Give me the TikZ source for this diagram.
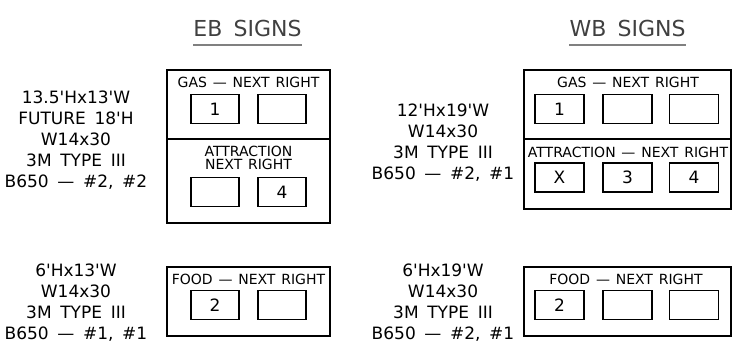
\documentclass[tikz,border=0pt]{standalone}
\usepackage{fontspec}
\setmainfont[WordSpace=1.3]{DejaVu Sans}
\newfontfamily\postfont[WordSpace=1.6]{DejaVu Sans}
\usetikzlibrary{positioning}

\begin{document}
\begin{tikzpicture}[x=1pt, y=-1pt,
	panel/.style={draw, line width=1.6pt, inner sep=0, minimum width=#1},
	slot/.style={draw, line width=1.3pt, inner sep=0, minimum width=48pt, minimum height=29pt, font=\fontsize{17}{17}\selectfont},
	sign/.style={inner sep=0, font=\fontsize{14}{12.5}\selectfont},
	postlbl/.style={inner sep=0, align=center, font=\postfont\fontsize{17}{21}\selectfont},
	heading/.style={inner sep=0, text=black!75, font=\postfont\fontsize{22}{22}\selectfont}]
\useasboundingbox (0,0) rectangle (752,360);
\node[heading, anchor=base] (ebT) at (247.5,36.7) {EB SIGNS};
\node[heading, anchor=base] (wbT) at (627.5,36.7) {WB SIGNS};
\draw[black!50, line width=2pt] ([yshift=-8pt]ebT.base west) -- ([yshift=-8pt]ebT.base east);
\draw[black!50, line width=2pt] ([yshift=-8pt]wbT.base west) -- ([yshift=-8pt]wbT.base east);

\node[panel=163, minimum height=69pt] (ebGas) at (248.5,104.5) {};
\node[panel=163, minimum height=84pt] (ebAttr) at (248.5,181) {};
\node[sign, anchor=base] (ebGasT) at (248.5,87.5) {GAS --- NEXT RIGHT};
\node[sign, align=center] (ebAttrT) at (248.5,158) {ATTRACTION\\NEXT RIGHT};
\foreach \x/\n/\t in {215/1/1, 282/2/{}} {
	\node[slot] (ebG\n) at (\x,109) {\t};
};
\foreach \x/\n/\t in {215/1/{}, 282/2/4} {
	\node[slot] (ebA\n) at (\x,192) {\t};
};
\node[postlbl] (ebPost) at (76,140) {13.5'Hx13'W\\FUTURE 18'H\\W14x30\\3M TYPE III\\B650 \textemdash\ \#2, \#2};

\node[panel=163, minimum height=69pt] (ebFood) at (248.5,301.5) {};
\node[sign, anchor=base] (ebFoodT) at (248.5,284) {FOOD --- NEXT RIGHT};
\foreach \x/\n/\t in {215/1/2, 282/2/{}} {
	\node[slot] (ebF\n) at (\x,305) {\t};
};
\node[postlbl] (ebFoodPost) at (76,302.5) {6'Hx13'W\\W14x30\\3M TYPE III\\B650 \textemdash\ \#1, \#1};

\node[panel=207, minimum height=69pt] (wbGas) at (627.5,104.5) {};
\node[panel=207, minimum height=70pt] (wbAttr) at (627.5,174) {};
\node[sign, anchor=base] (wbGasT) at (628,87.5) {GAS --- NEXT RIGHT};
\node[sign, anchor=base] (wbAttrT) at (628,157) {ATTRACTION --- NEXT RIGHT};
\foreach \x/\n/\t in {559.5/1/1, 627.5/2/{}, 694/3/{}} {
	\node[slot, minimum width=49pt] (wbG\n) at (\x,109) {\t};
};
\foreach \x/\n/\t in {559.5/1/X, 627.5/2/3, 694/3/4} {
	\node[slot, minimum width=49pt] (wbA\n) at (\x,177.5) {\t};
};
\node[postlbl] (wbPost) at (443,143) {12'Hx19'W\\W14x30\\3M TYPE III\\B650 \textemdash\ \#2, \#1};

\node[panel=207, minimum height=69pt] (wbFood) at (627.5,301.5) {};
\node[sign, anchor=base] (wbFoodT) at (626,284) {FOOD --- NEXT RIGHT};
\foreach \x/\n/\t in {559.5/1/2, 627.5/2/{}, 694/3/{}} {
	\node[slot, minimum width=49pt] (wbF\n) at (\x,305) {\t};
};
\node[postlbl] (wbFoodPost) at (443,302.5) {6'Hx19'W\\W14x30\\3M TYPE III\\B650 \textemdash\ \#2, \#1};
\end{tikzpicture}
\end{document}
